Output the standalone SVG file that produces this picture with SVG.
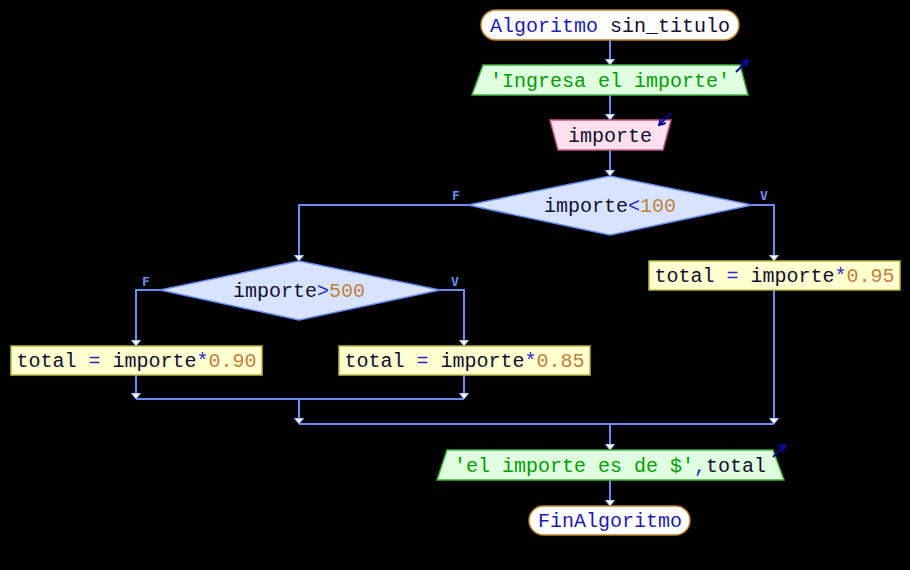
<svg xmlns="http://www.w3.org/2000/svg" width="910" height="570" viewBox="0 0 910 570">
<defs>
<style>
.t{font-family:"Liberation Mono","DejaVu Sans Mono",monospace;font-size:20px;text-anchor:middle}
.kw{fill:#1c1cb4}
.op{fill:#2828c8}
.st{fill:#00a000}
.nu{fill:#c08040}
.id{fill:#101030}
.lab{font-family:"DejaVu Sans Mono","Liberation Mono",monospace;font-size:13px;font-weight:bold;fill:#6a8cf0}
.c{fill:none;stroke:#6a8cf0;stroke-width:2}
.term{fill:#ffffff;stroke:#c0802c;stroke-width:1.5}
.out{fill:#e0ffe0;stroke:#40b040;stroke-width:1.5}
.inp{fill:#ffe0ec;stroke:#c05880;stroke-width:1.5}
.dec{fill:#d8e4ff;stroke:#6a8cf0;stroke-width:1.5}
.proc{fill:#ffffd0;stroke:#b8b840;stroke-width:1.5}
.icon{fill:none;stroke:#0a0aa0;stroke-width:2}
</style>
<marker id="ah" viewBox="0 0 6 10" refX="6" refY="5" markerWidth="6" markerHeight="10" markerUnits="userSpaceOnUse" orient="auto">
<path d="M0,0 L6,5 L0,10 Z" fill="#ffffff" stroke="#6a8cf0" stroke-width="1"/>
</marker>
<marker id="ic" viewBox="0 0 8 8" refX="7" refY="4" markerWidth="8" markerHeight="8" markerUnits="userSpaceOnUse" orient="auto">
<path d="M0,0 L7,4 L0,8" fill="none" stroke="#0a0aa0" stroke-width="2"/>
</marker>
</defs>
<rect width="910" height="570" fill="#000000"/>
<g id="connectors">
<path class="c" d="M610,40 V65" marker-end="url(#ah)"/>
<path class="c" d="M610,95 V120" marker-end="url(#ah)"/>
<path class="c" d="M610,150 V176" marker-end="url(#ah)"/>
<path class="c" d="M468,205 H299 V261" marker-end="url(#ah)"/>
<path class="c" d="M752,205 H774 V261" marker-end="url(#ah)"/>
<path class="c" d="M160,290 H136 V346" marker-end="url(#ah)"/>
<path class="c" d="M440,290 H464 V346" marker-end="url(#ah)"/>
<path class="c" d="M136,375 V399" marker-end="url(#ah)"/>
<path class="c" d="M464,375 V399" marker-end="url(#ah)"/>
<path class="c" d="M136,399 H464"/>
<path class="c" d="M299,399 V424" marker-end="url(#ah)"/>
<path class="c" d="M774,290 V424" marker-end="url(#ah)"/>
<path class="c" d="M299,424 H774"/>
<path class="c" d="M610,424 V450" marker-end="url(#ah)"/>
<path class="c" d="M610,480 V506" marker-end="url(#ah)"/>
<text class="lab" x="452" y="200">F</text>
<text class="lab" x="760" y="200">V</text>
<text class="lab" x="142" y="286">F</text>
<text class="lab" x="451" y="286">V</text>
</g>
<g id="start">
<rect class="term" x="481" y="10" width="258" height="30" rx="15" ry="15"/>
<text class="t" x="610" y="32"><tspan class="kw">Algoritmo</tspan><tspan class="id"> sin_titulo</tspan></text>
</g>
<g id="out1">
<polygon class="out" points="483,65 740,65 748,95 472,95"/>
<text class="t st" x="610" y="87">'Ingresa el importe'</text>
<path class="icon" d="M736,72 L748,60" marker-end="url(#ic)"/>
</g>
<g id="in1">
<polygon class="inp" points="550,120 671,120 663,150 558,150"/>
<text class="t id" x="610" y="142">importe</text>
<path class="icon" d="M671,113 L659,125" marker-end="url(#ic)"/>
</g>
<g id="dec1">
<polygon class="dec" points="468,205 610,176 752,205 610,235"/>
<text class="t" x="610" y="212"><tspan class="id">importe</tspan><tspan class="op">&lt;</tspan><tspan class="nu">100</tspan></text>
</g>
<g id="dec2">
<polygon class="dec" points="160,290 299,261 440,290 299,320"/>
<text class="t" x="299" y="297"><tspan class="id">importe</tspan><tspan class="op">&gt;</tspan><tspan class="nu">500</tspan></text>
</g>
<g id="proc95">
<rect class="proc" x="649" y="261" width="251" height="29"/>
<text class="t" x="774.5" y="282"><tspan class="id">total </tspan><tspan class="op">=</tspan><tspan class="id"> importe</tspan><tspan class="op">*</tspan><tspan class="nu">0.95</tspan></text>
</g>
<g id="proc90">
<rect class="proc" x="11" y="346" width="251" height="29"/>
<text class="t" x="136.5" y="367"><tspan class="id">total </tspan><tspan class="op">=</tspan><tspan class="id"> importe</tspan><tspan class="op">*</tspan><tspan class="nu">0.90</tspan></text>
</g>
<g id="proc85">
<rect class="proc" x="339" y="346" width="251" height="29"/>
<text class="t" x="464.5" y="367"><tspan class="id">total </tspan><tspan class="op">=</tspan><tspan class="id"> importe</tspan><tspan class="op">*</tspan><tspan class="nu">0.85</tspan></text>
</g>
<g id="out2">
<polygon class="out" points="447,450 773,450 784,480 437,480"/>
<text class="t" x="610" y="472"><tspan class="st">'el importe es de $'</tspan><tspan class="op">,</tspan><tspan class="id">total</tspan></text>
<path class="icon" d="M773,457 L785,445" marker-end="url(#ic)"/>
</g>
<g id="end">
<rect class="term" x="529" y="506" width="161" height="29" rx="14.5" ry="14.5"/>
<text class="t kw" x="610" y="527">FinAlgoritmo</text>
</g>
</svg>
